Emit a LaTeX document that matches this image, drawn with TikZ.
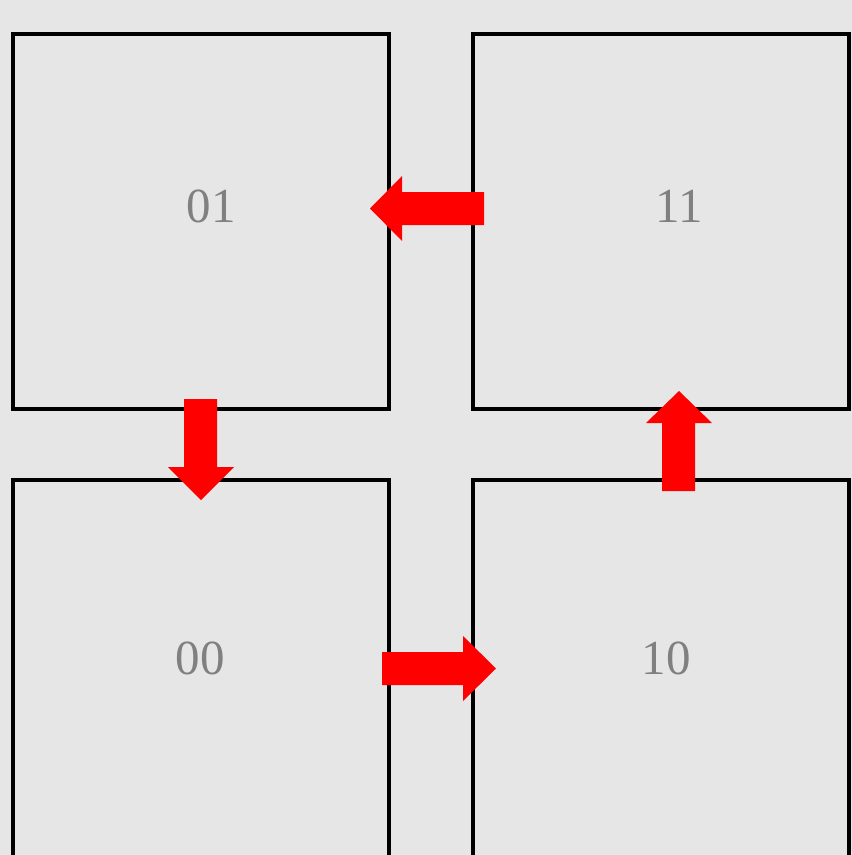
\documentclass[tikz,border=0pt]{standalone}
\usepackage{fontspec}
\setmainfont{Liberation Serif}
\definecolor{bg}{HTML}{E6E6E6}
\definecolor{lbl}{HTML}{808080}
\definecolor{arr}{HTML}{FF0000}
\begin{document}
\begin{tikzpicture}[x=1pt,y=-1pt,
  cell/.style={draw=black,line width=4pt},
  lab/.style={text=lbl,font=\fontsize{49}{49}\selectfont,inner sep=0pt},
  blockarrow/.style={fill=arr,draw=none}]
\useasboundingbox (0,0) rectangle (852,855);
\fill[bg] (0,0) rectangle (852,855);
\begin{scope}
\clip (0,0) rectangle (852,855);
\draw[cell] (13,33.5) rectangle (388.7,408.7);
\draw[cell] (473,33.5) rectangle (848.5,408.7);
\draw[cell] (13,480.3) rectangle (388.7,870);
\draw[cell] (473,480.3) rectangle (848.5,870);
\end{scope}
\node[lab] (n01) at (211,206) {01};
\node[lab] (n11) at (679,206) {11};
\node[lab] (n00) at (200,658) {00};
\node[lab] (n10) at (666,658) {10};
% 11 -> 01 (left)
\fill[blockarrow] (484,192) -- (402,192) -- (402,176) -- (370,208.5) -- (402,241) -- (402,225) -- (484,225) -- cycle;
% 01 -> 00 (down)
\fill[blockarrow] (184,399) -- (184,467) -- (168,467) -- (201,500) -- (234,467) -- (217,467) -- (217,399) -- cycle;
% 00 -> 10 (right)
\fill[blockarrow] (382,652) -- (463,652) -- (463,636) -- (496,668.5) -- (463,701) -- (463,685) -- (382,685) -- cycle;
% 10 -> 11 (up)
\fill[blockarrow] (662,491) -- (662,423) -- (646,423) -- (679,391) -- (712,423) -- (695,423) -- (695,491) -- cycle;
\end{tikzpicture}
\end{document}
